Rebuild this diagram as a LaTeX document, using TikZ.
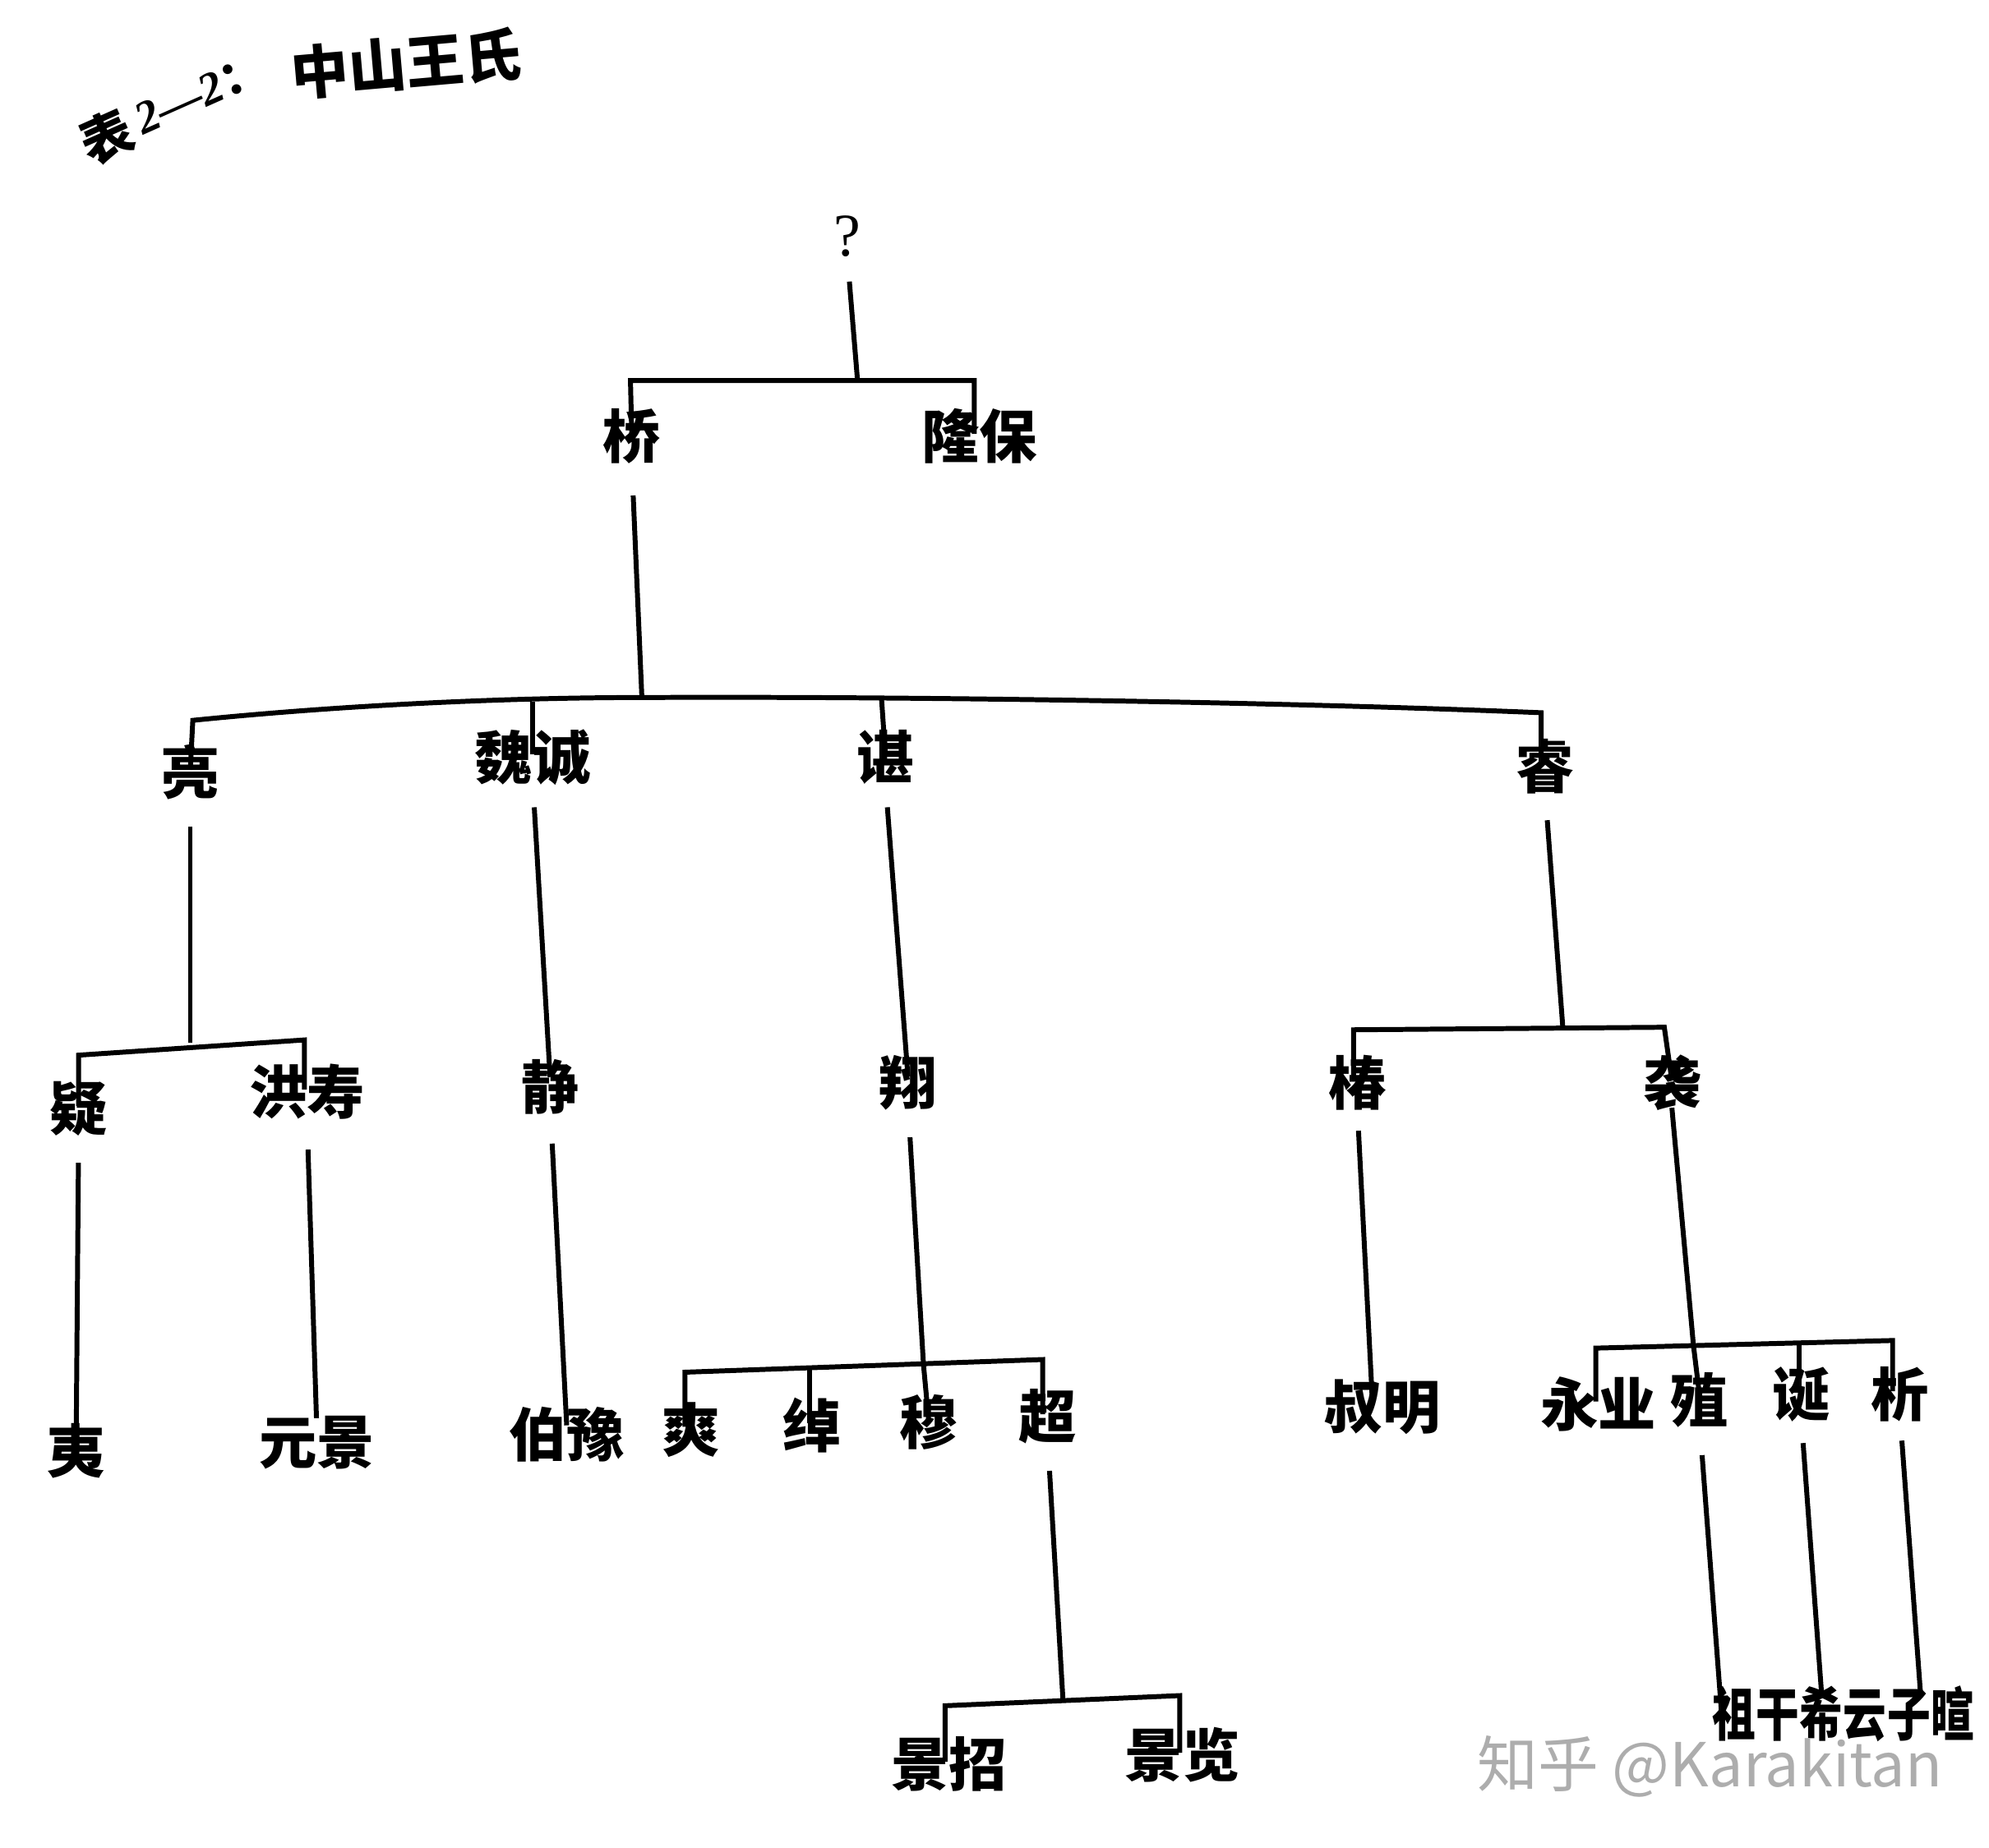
\documentclass[tikz,border=0pt]{standalone}
\usepackage{fontspec}
\newfontfamily\cjk{Noto Sans CJK SC}
\newfontfamily\lserif{Liberation Serif}
\newfontface\lsbi{Liberation Serif Bold Italic}
\usetikzlibrary{calc}
\begin{document}
\begin{tikzpicture}[x=0.01543cm, y=-0.01543cm,
  pname/.style={font=\cjk\bfseries\fontsize{20}{20}\selectfont, inner sep=0pt, text height=0.83em, text depth=0.07em, yshift=-0.12cm},
  small/.style={pname, transform shape, xscale=0.75},
  titlepart/.style={inner sep=0pt, rotate=24},
  link/.style={line width=1.7pt},
  gap/.style={shorten <=#1},
  gap/.default=0.36cm]
\useasboundingbox[fill=white] (0,0) rectangle (1568,1457);

% title
\node[font=\cjk\bfseries\fontsize{20}{20}\selectfont, rotate=5, inner sep=0pt] (title) at (320,50) {中山王氏};
\node[titlepart, font=\cjk\bfseries\fontsize{18}{18}\selectfont] (tabbiao) at (84,108) {表};
\node[titlepart, font=\lsbi\fontsize{16}{16}\selectfont, anchor=west] (tabno) at (108,96) {2—2{\cjk\bfseries ：}};

% people
\node[font=\lserif\fontsize{21}{21}\selectfont, inner sep=0pt] (q) at (668,186) {?};
\node[pname] (qiao) at (498,345) {桥};
\node[pname] (longbao) at (772,345) {隆保};
\node[pname] (liang) at (150,610) {亮};
\node[pname] (weicheng) at (420,598) {魏诚};
\node[pname] (chen) at (698,598) {谌};
\node[pname] (rui) at (1218,605) {睿};
\node[pname] (yi) at (62,875) {疑};
\node[pname] (hongshou) at (242,862) {洪寿};
\node[pname] (jing) at (434,858) {静};
\node[pname] (xiang) at (716,855) {翔};
\node[pname] (chun) at (1070,855) {椿};
\node[pname] (xi) at (1318,855) {袭};
\node[pname] (yitwo) at (60,1145) {夷};
\node[pname] (yuanjing) at (250,1138) {元景};
\node[pname] (boyu) at (447,1132) {伯豫};
\node[pname] (shuang) at (545,1128) {爽};
\node[pname] (chuo) at (640,1125) {绰};
\node[pname] (mu) at (732,1122) {穆};
\node[pname] (chao) at (826,1118) {超};
\node[pname] (shuming) at (1090,1110) {叔明};
\node[pname] (yongye) at (1260,1108) {永业};
\node[pname] (zhi) at (1340,1105) {殖};
\node[pname] (dan) at (1420,1100) {诞};
\node[pname] (xitwo) at (1498,1100) {析};
\node[pname] (jingzhao) at (748,1392) {景招};
\node[pname] (jinglan) at (932,1385) {景览};
\node[small] (zugan) at (1384,1352) {祖干};
\node[small] (xiyun) at (1453,1352) {希云};
\node[small] (zixuan) at (1522,1352) {子暄};

% watermark
\node[font=\cjk\fontsize{21}{21}\selectfont, text=black!32, inner sep=0pt] (wm) at (1348,1393) {知乎 @Karakitan};

% ? -> 桥, 隆保
\coordinate (j0) at (676,300);
\coordinate (b0l) at (497,300);
\coordinate (b0r) at (768,300);
\draw[link, gap=0.3cm] (q.south) -- (j0);
\draw[link] (qiao.north) -- (b0l) -- (b0r) -- (b0r |- longbao.north);

% 桥 -> 亮 魏诚 谌 睿
\coordinate (j1) at (506,550);
\coordinate (b1a) at (152,568);
\coordinate (b1b) at (420,553);
\coordinate (b1c) at (695,552);
\coordinate (b1e) at (1215,562);
\draw[link, gap=0.42cm] (qiao.south) -- (j1);
\draw[link] (liang.north) -- (b1a) .. controls (270,556) and (400,550) .. (j1)
  .. controls (700,549) and (1000,553) .. (b1e) -- (b1e |- rui.north);
\draw[link] (b1b) -- (weicheng.north);
\draw[link] (b1c) -- (chen.north);

% 亮 -> 疑 洪寿
\coordinate (j2) at (150,822);
\coordinate (b2l) at (62,832);
\coordinate (b2r) at (240,820);
\draw[link, gap] (liang.south) -- (j2);
\draw[link] (yi.north) -- (b2l) -- (b2r) -- (b2r |- hongshou.north);

% single lines
\draw[link, gap] (yi.south) -- (yitwo.north);
\draw[link, gap=0.4cm, shorten >=0.26cm] (hongshou.south) -- (yuanjing.north);
\draw[link, gap=0.31cm, shorten >=0.09cm] (weicheng.south) -- (jing.north);
\draw[link, gap=0.39cm, shorten >=0.08cm] (jing.south) -- (boyu.north);
\draw[link, gap=0.31cm, shorten >=0.05cm] (chen.south) -- (xiang.north);

% 翔 -> 爽 绰 穆 超
\coordinate (j3) at (728,1076);
\coordinate (b3a) at (540,1082);
\coordinate (b3b) at (638,1080);
\coordinate (b3d) at (822,1072);
\draw[link, gap] (xiang.south) -- (j3) -- (mu.north);
\draw[link] (b3a |- shuang.north) -- (b3a) -- (b3d) -- (b3d |- chao.north);
\draw[link] (b3b) -- (b3b |- chuo.north);

% 超 -> 景招 景览
\coordinate (j4) at (838,1341);
\coordinate (b4l) at (745,1345);
\coordinate (b4r) at (930,1337);
\draw[link, gap] (chao.south) -- (j4);
\draw[link] (b4l |- jingzhao.north) -- (b4l) -- (b4r) -- (b4r |- jinglan.north);

% 睿 -> 椿 袭
\coordinate (j5) at (1232,810);
\coordinate (b5l) at (1067,812);
\coordinate (b5r) at (1312,810);
\draw[link, gap] (rui.south) -- (j5);
\draw[link] (b5l |- chun.north) -- (b5l) -- (b5r) -- (xi.north);

% 椿 -> 叔明
\draw[link, gap=0.28cm, shorten >=0.1cm] (chun.south) -- ($(shuming.north)+(-8,0)$);

% 袭 -> 永业 殖 诞 析
\coordinate (j6) at (1335,1061);
\coordinate (b6a) at (1258,1063);
\coordinate (b6c) at (1418,1059);
\coordinate (b6d) at (1492,1057);
\draw[link] (xi.south) -- (j6) -- (zhi.north);
\draw[link] (b6a |- yongye.north) -- (b6a) -- (b6d) -- (b6d |- xitwo.north);
\draw[link] (b6c) -- (b6c |- dan.north);

% 殖 诞 析 -> 祖干 希云 子暄
\draw[link, gap=0.37cm] (zhi.south) -- ($(zugan.north)+(-27,0)$);
\draw[link, gap=0.3cm, shorten >=0.2cm] (dan.south) -- ($(xiyun.north)+(-16,0)$);
\draw[link, gap=0.27cm, shorten >=0.17cm] (xitwo.south) -- ($(zixuan.north)+(-7,0)$);
\end{tikzpicture}
\end{document}
